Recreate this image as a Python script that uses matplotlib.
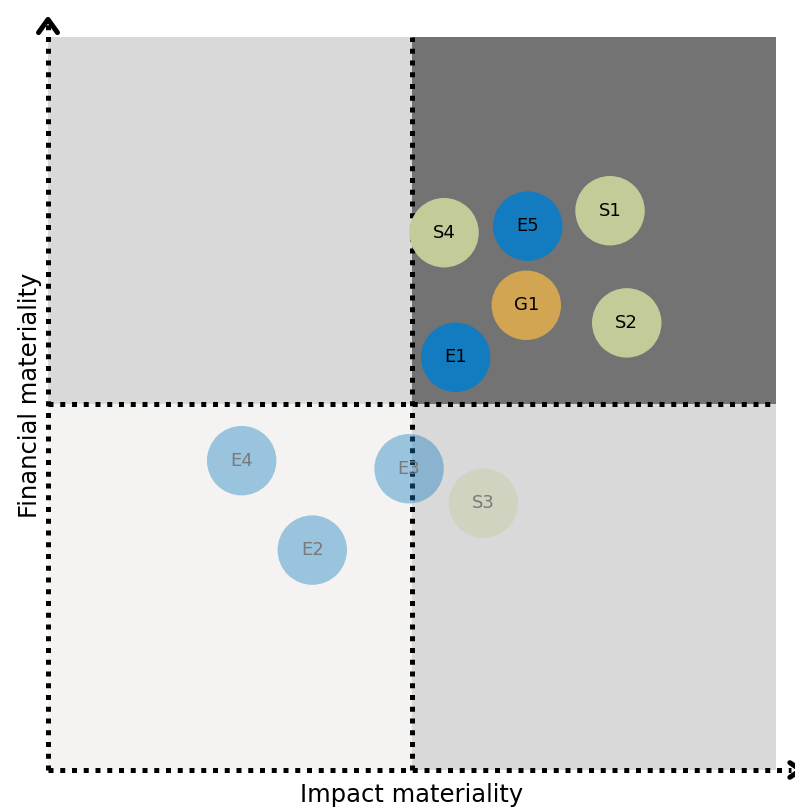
import matplotlib.pyplot as plt
from matplotlib.patches import Rectangle

# materiality topics (impact, financial)
topics = ['S4', 'E5', 'S1', 'G1', 'S2', 'E1', 'E4', 'E3', 'S3', 'E2']
impact = [5.44, 6.59, 7.72, 6.57, 7.95, 5.60, 2.66, 4.96, 5.98, 3.63]
financial = [7.33, 7.42, 7.63, 6.34, 6.10, 5.63, 4.22, 4.11, 3.64, 3.00]
groups = ['S', 'E', 'S', 'G', 'S', 'E', 'E', 'E', 'S', 'E']
material = [True, True, True, True, True, True, False, False, False, False]

colors = {'E': '#137bbf', 'S': '#c3cc98', 'G': '#d1a552'}
quadrant_colors = {(0, 1): '#d9d9d9', (1, 1): '#737373',
                   (0, 0): '#f4f3f2', (1, 0): '#d9d9d9'}
threshold = 5

plt.rcParams['font.family'] = ['DejaVu Sans']

fig = plt.figure(figsize=(7.95, 8.07), dpi=100)
ax = fig.add_axes([48 / 795, 37 / 807, 728 / 795, 733 / 807])
ax.set_xlim(0, 10)
ax.set_ylim(0, 10)
ax.axis('off')

for (qx, qy), c in quadrant_colors.items():
    ax.add_patch(Rectangle((qx * threshold, qy * threshold), threshold, threshold,
                           facecolor=c, edgecolor='none', zorder=0))

dots = dict(color='black', lw=3.6, linestyle=(0, (1, 1.35)),
            dash_capstyle='butt', clip_on=False, zorder=2)
ax.plot([threshold, threshold], [0, 10], **dots)
ax.plot([0, 10], [threshold, threshold], **dots)
ax.plot([0, 0], [0, 10.2], **dots)
ax.plot([0, 10.2], [0, 0], **dots)

# arrow heads
arrow = dict(color='black', lw=3.6, solid_capstyle='round',
             solid_joinstyle='round', clip_on=False, zorder=3)
ax.plot([-0.13, 0, 0.13], [10.06, 10.24, 10.06], **arrow)
ax.plot([10.19, 10.34, 10.19], [0.1, 0, -0.1], **arrow)

for name, x, y, g, m in zip(topics, impact, financial, groups, material):
    a = 1.0 if m else 0.4
    ax.scatter(x, y, s=2500, color=colors[g], alpha=a, edgecolors='none', zorder=4)
    ax.text(x, y, name, ha='center', va='center', fontsize=13,
            color='black' if m else '#7a7a7a', zorder=5)

fig.text(30 / 795, 1 - 395 / 807, 'Financial materiality', rotation=90,
         ha='center', va='center', fontsize=17.5)
fig.text(412 / 795, 1 - 795 / 807, 'Impact materiality',
         ha='center', va='center', fontsize=17.5)

fig.savefig('out.png', dpi=100)
